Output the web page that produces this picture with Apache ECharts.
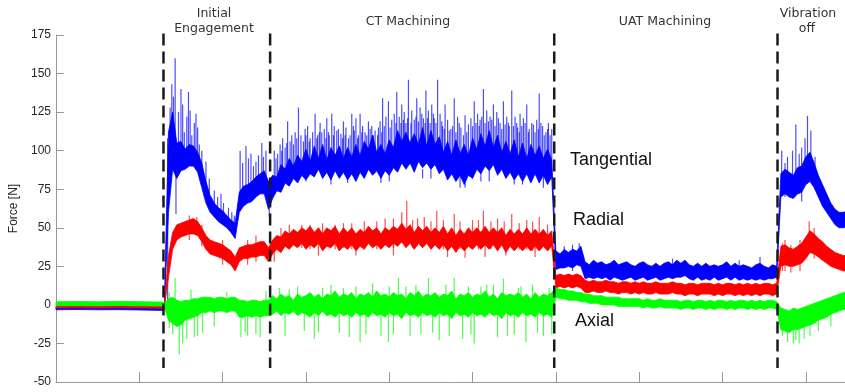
<!DOCTYPE html>
<html>
<head>
<meta charset="utf-8">
<script src="https://cdn.jsdelivr.net/npm/echarts@6/dist/echarts.min.js"></script>
<style>html,body{margin:0;padding:0;background:#fff;}#c{width:845px;height:392px;}</style>
</head>
<body>
<div id="c"></div>
<script>
// ---- sampling times (axis units, one tick = 1) ----
const time = [0, 0.25, 0.5, 0.75, 1.0, 1.28];
for (let i = 0; i <= 164; i++) time.push(Math.round((1.30 + i * 0.05) * 100) / 100);

// ---- phase boundaries and tick values ----
const boundaries = [1.29, 2.57, 5.98, 8.66];
const yTicks = [-50, -25, 0, 25, 50, 75, 100, 125, 150, 175];

// ---- Tangential (core band) ----
const tanUpper = [-1.5,-1.3,-1.5,-1.4,-1.5,-1.6,
 -1,112,125,105,106,101,104,103,99,92,80,71,66,63,61,58,55,53,73,77,78,80,83,85,87,80,
 84,83,91,88,95,90,97,93, 101,93,103,95,104,94,102,97,103,95, 102,96,104,97,106,101,110,99,104,98, 107,102,113,106,112,105,111,104,115,103, 113,104,109,99,106,97,107,98,104,97, 108,101,111,103,113,102,110,99,106,98, 107,96,105,95,104,97,103,95,101,94,
 35,33,36,34,36,35,38,28,26,29, 27,28,26,27,29,26,27,28,26,25, 27,28,26,25,27,25,27,28,26,29, 27,29,26,25,27,25,27,25,26,25, 26,28,25,27,25,26,25,24,26,27, 25,24,26,25,
 85,88,86,84,89,90,96,99,92,84,78,72,66,62,60,60,61];
const tanLower = [-3.2,-3.0,-3.2,-3.1,-3.3,-3.6,
 -3,60,88,82,87,88,90,90,86,76,66,60,57,54,52,50,47,43,60,64,66,67,70,72,72,62,
 69,74,73,79,77,82,79,84, 81,85,83,88,82,86,81,87,82,86, 81,85,80,86,82,88,84,87,82,87, 84,89,86,92,88,92,86,93,89,92, 88,91,85,88,81,85,80,84,78,84, 82,88,85,90,87,91,84,88,82,86, 81,85,80,85,79,85,79,84,78,83,
 23,24,24,25,24,26,25,17,18,17, 18,17,18,16,18,17,16,17,18,16, 17,18,16,17,18,16,17,18,17,18, 18,19,17,16,18,16,17,16,18,16, 17,18,16,18,16,17,16,17,16,17, 16,17,17,18,
 70,72,70,69,72,73,78,80,76,70,64,60,56,52,50,50,51];
// spikes: [time, low, high]
const tanSpikes = [
 [1.34,0,108],[1.39,95,143],[1.43,100,160],[1.44,59,95],[1.50,95,140],[1.54,95,112],[1.59,95,138],[1.63,95,110],[1.68,92,124],[1.72,90,104],
 [1.37,90,128],[1.41,88,135],[1.47,88,125],[1.52,92,130],[1.57,90,122],[1.61,92,126],[1.66,90,118],[1.70,88,115],[1.75,80,100],[1.84,66,82],
 [1.94,58,70],[2.11,48,60],[2.14,45,58],[2.24,64,92],[2.31,68,95],[2.37,70,90],[2.43,72,97],[2.49,75,96],
 [1.80,72,93],[1.90,60,74],[1.98,57,72],[2.01,55,66],[2.07,52,63],[2.21,65,100],[2.28,70,103],[2.34,72,98],[2.40,75,93],[2.47,78,105],[2.52,80,100],[2.56,57,78],
 [2.62,76,100],[2.72,82,108],[2.78,85,119],[2.83,86,110],[2.91,88,128],[2.99,90,114],[3.05,90,108],[3.11,92,124],[3.19,90,112],[3.25,90,121],[3.31,90,124],
 [3.39,90,114],[3.45,92,119],[3.51,90,108],[3.55,90,124],[3.60,90,121],[3.65,90,124],[3.75,92,119],[3.89,90,119],[3.92,92,134],[3.99,92,132],[4.09,95,138],
 [4.15,96,130],[4.23,96,146],[4.33,95,134],[4.44,96,139],[4.51,96,130],[4.58,95,146],[4.67,92,130],[4.78,90,134],[4.91,76,123],[5.02,90,132],[5.13,94,140],
 [5.25,94,130],[5.37,92,132],[5.47,90,139],[5.57,90,124],[5.65,88,130],[5.73,88,117],[5.80,88,137],[5.91,86,118],[5.95,86,114],
 [2.66,80,98],[2.69,82,104],[2.75,84,102],[2.81,85,106],[2.87,86,112],[2.94,88,110],[3.02,88,116],[3.08,88,112],[3.14,90,110],[3.17,90,118],[3.22,88,114],
 [3.28,88,110],[3.34,90,116],[3.42,90,111],[3.48,88,115],[3.58,88,113],[3.63,88,110],[3.68,88,116],[3.71,90,112],[3.79,90,116],[3.83,90,113],[3.86,90,110],
 [3.96,90,122],[4.03,92,120],[4.06,92,124],[4.12,94,122],[4.18,94,125],[4.20,95,118],[4.27,94,126],[4.30,92,120],[4.37,94,128],[4.41,95,121],[4.47,94,126],
 [4.54,93,121],[4.61,92,124],[4.64,91,116],[4.70,88,120],[4.74,88,114],[4.82,88,122],[4.86,86,115],[4.95,87,117],[4.98,88,121],[5.06,90,124],[5.09,92,120],
 [5.17,93,126],[5.21,93,122],[5.29,91,125],[5.33,90,118],[5.41,88,122],[5.44,88,116],[5.51,88,122],[5.54,87,115],[5.61,87,121],[5.68,86,114],[5.77,86,120],
 [5.84,86,116],[5.88,85,112],
 [2.64,78,95],[2.71,82,100],[2.77,84,105],[2.85,85,104],[2.89,86,108],[2.97,88,106],[3.00,88,110],[3.04,88,106],[3.13,90,108],[3.16,90,112],[3.24,88,108],
 [3.27,88,112],[3.33,90,110],[3.37,90,113],[3.44,90,108],[3.47,88,110],[3.53,88,110],[3.57,88,116],[3.62,88,108],[3.67,88,112],[3.73,90,110],[3.77,90,114],
 [3.81,90,110],[3.87,90,115],[3.91,90,112],[3.94,90,116],[4.01,92,115],[4.08,92,118],[4.14,94,118],[4.17,94,120],[4.22,95,121],[4.26,94,118],[4.32,92,122],
 [4.35,94,119],[4.39,95,124],[4.43,95,118],[4.46,94,121],[4.49,94,118],[4.53,93,124],[4.56,93,118],[4.63,92,119],[4.66,91,114],[4.72,88,113],[4.76,88,116],
 [4.80,88,112],[4.84,86,118],[4.89,86,110],[4.93,87,112],[5.00,88,116],[5.04,90,118],[5.08,92,116],[5.11,92,122],[5.15,93,118],[5.19,93,119],[5.23,92,120],
 [5.27,91,116],[5.31,90,121],[5.35,90,114],[5.39,88,117],[5.43,88,118],[5.49,88,116],[5.53,87,118],[5.56,87,112],[5.59,87,116],[5.63,86,118],[5.67,86,112],
 [5.71,86,118],[5.75,86,112],[5.79,86,114],[5.82,86,118],[5.86,85,110],[5.90,85,114],[5.93,85,110],
 [3.00,80,86],[3.30,78,90],[3.50,79,85],[3.90,79,86],[4.00,80,90],[4.40,82,88],[4.50,82,92],[4.85,76,84],[5.10,80,88],[5.20,80,92],[5.50,78,86],[5.60,78,88],[5.85,76,84],
 [6.10,28,38],[6.28,30,40],[6.20,22,39],[7.40,20,30],[8.20,20,29],[8.45,20,31],
 [8.71,75,100],[8.78,76,96],[8.84,75,100],[8.88,78,117],[8.95,67,102],[9.02,85,122.6],[9.06,85,113],[9.11,80,96],[8.75,70,92],[8.92,72,98],[8.99,78,108]];

// ---- Radial ----
const radUpper = [-0.6,-0.5,-0.6,-0.5,-0.6,-0.7,
 0,32,47,52,53,54,55,56,54,50,45,42,41,40,39,37,35,31,37,38,39,39,40,41,41,37,
 42,45,44,48,46,49,47,50, 48,51,47,50,46,50,48,51,46,50, 47,50,46,49,47,51,48,50,46,50, 48,51,49,53,49,52,47,51,48,51, 47,50,47,51,46,50,45,49,46,50, 47,50,47,51,47,50,47,50,45,49, 46,49,46,50,46,49,46,49,45,48,
 19,20,19,20,19,20,19, 16,15,16,15,15,16,15,15,14,15, 15,14,15,14,15,14,14,15,14,14, 14,15,14,14,13,14,14,13,14,14, 14,13,14,13,14,14,13,14,13,14, 13,14,13,14,14,13,14,
 38,39,37,36,38,40,44,48,46,43,41,38,36,34,33,32,32];
const radLower = [-2.0,-1.9,-2.0,-1.9,-2.0,-2.2,
 -2,18,36,42,44,45,46,46,45,41,36,33,32,31,30,28,26,22,28,30,30,31,31,32,32,28,
 33,36,34,38,36,39,37,40, 36,39,37,40,35,38,37,40,35,38, 36,39,35,38,36,40,37,39,36,39, 37,40,38,41,37,40,36,40,37,40, 36,39,36,39,35,38,34,38,35,38, 36,39,36,39,36,39,35,39,34,38, 35,38,35,38,35,38,35,38,35,38,
 11,12,11,12,11,12,11, 8,8,9,8,8,9,8,8,7,8, 8,7,8,7,8,7,7,8,7,7, 7,8,7,7,6,7,7,6,7,7, 7,6,7,6,7,7,6,7,6,7, 6,7,6,7,7,6,7,
 25,26,25,25,26,27,30,34,33,31,29,27,25,24,23,22,22];
const radSpikes = [
 [1.69,46,57],[2.00,26,42],[2.40,28,45],[2.62,28,36],[2.80,38,52],[2.95,37,52],[3.20,38,53],[3.45,37,53],[3.60,32,40],[3.70,38,54],[3.95,39,56],
 [4.15,40,60],[4.21,40,67.5],[4.34,38,56],[4.42,38,57],[4.57,38,61],[4.70,31,39],[4.78,38,59],[4.91,30.5,40],[5.00,37,55],[5.13,38,61],[5.30,37,56],
 [5.40,32,40],[5.47,38,59],[5.65,36,55],[5.80,37,57],[8.75,22,42],[9.04,40,54],
 [2.70,34,50],[3.05,36,52],[3.35,36,52],[3.55,36,53],[3.85,36,54],[4.05,37,56],[4.28,37,55],[4.50,36,54],[4.65,36,55],[4.85,36,54],[5.07,36,55],
 [5.22,36,54],[5.38,36,54],[5.56,36,53],[5.72,35,54],[5.90,35,52],[1.60,42,58],[1.75,38,52],[2.30,26,42],[3.15,32,40],[4.05,32,40],[5.15,31,40],
 [5.75,31,40],[8.72,22,40],[8.82,21,39],[8.93,22,42],[9.10,30,50]];

// ---- Axial ----
const axUpper = [2.0,2.2,2.0,2.3,2.1,1.8,
 1,4,5,3,2,3,3,4,4,5,5,5,4,5,5,4,5,5,3,3,2,3,3,2,3,3,
 6,4,7,5,6,3,7,5, 6,8,5,7,4,7,6,9,5,7, 6,8,4,7,6,8,5,9,6,7, 5,8,6,7,4,8,6,9,5,7, 6,8,5,7,6,9,4,7,6,8, 5,7,6,9,5,7,4,8,6,7, 6,8,5,7,4,8,5,7,6,8,
 11,10,10,9,9,8,8, 7,7,6,6,6,5,5,5,5,4, 4,4,4,4,3,4,3,3,4,3, 3,3,3,2,3,3,2,3,3,2, 3,2,3,3,2,3,2,3,3,2, 3,2,3,2,3,3,2,
 -2,-3,-4,-2,-3,-2,-1,0,1,2,3,4,5,6,7,8,8];
const axLower = [-0.6,-0.5,-0.6,-0.4,-0.6,-0.8,
 -1,-10,-12,-14,-13,-10,-9,-8,-7,-5,-5,-4,-5,-4,-4,-5,-4,-4,-8,-8,-7,-8,-7,-8,-7,-7,
 -6,-4,-7,-5,-6,-4,-7,-5, -6,-8,-5,-7,-4,-7,-6,-8,-5,-7, -6,-8,-5,-7,-6,-8,-5,-7,-6,-8, -5,-7,-6,-9,-5,-7,-6,-8,-5,-7, -6,-8,-5,-7,-6,-9,-5,-7,-6,-8, -5,-7,-6,-8,-5,-7,-6,-9,-5,-7, -6,-8,-5,-7,-6,-8,-5,-7,-6,-8,
 5,4,4,3,3,3,2, 2,1,1,1,0,0,0,0,-1,-1, -1,-1,-1,-1,-2,-1,-2,-2,-1,-2, -2,-2,-2,-3,-2,-2,-3,-2,-2,-3, -2,-3,-2,-2,-3,-2,-3,-2,-2,-3, -2,-3,-2,-3,-2,-2,-3,
 -16,-17,-18,-16,-16,-15,-14,-13,-12,-10,-9,-8,-6,-5,-4,-3,-3];
const axSpikes = [
 [1.36,-15,8],[1.40,-19,-5],[1.43,0,17.5],[1.48,-32,-10],[1.57,-22,-5],[1.62,0,10],[1.66,-21,-5],[1.76,-18,-3],[2.05,0,8],[2.22,-21,-5],[2.30,-20,-5],
 [2.45,-21,-5],[2.52,0,9],[2.68,0,11],[2.75,-20,-4],[2.90,0,12],[3.10,-22,-4],[3.20,0,11],[3.30,0,13],[3.40,-18,-4],[3.52,-21,-4],[3.65,-24,-4],
 [3.80,0,14],[3.99,-24,-4],[4.00,0,12],[4.11,0,17.5],[4.25,-20,-4],[4.38,-19,-4],[4.47,0,17.5],[4.60,-23,-4],[4.78,0,17.5],[4.88,-22,-4],[4.95,0,12],
 [5.02,-25,-4],[5.17,0,13],[5.30,-21,-4],[5.37,0,17],[5.50,-19,-4],[5.58,0,12],[5.64,-24,-4],[5.72,0,13],[5.85,-20,-4],[5.92,0,11],
 [2.80,0,10],[2.98,-17,0],[3.15,-18,0],[3.45,0,11],[3.60,0,12],[3.72,-19,0],[3.90,-20,0],[4.05,-19,0],[4.20,0,12],[4.32,0,13],[4.52,-18,0],
 [4.68,0,13],[4.72,-20,0],[4.98,-19,0],[5.10,0,12],[5.25,0,13],[5.42,-20,0],[5.55,0,11],[5.78,-18,0],[5.95,-19,0],[1.52,-25,-5],[1.70,-20,-5],
 [1.90,-14,0],[2.27,-18,-3],[2.40,-19,-3],
 [8.72,-20,-10],[8.78,-24,-10],[8.85,-25,-12],[8.88,-23,-10],[8.92,-25,-12],[8.98,-22,-10],[9.05,-20,-8],[9.15,-17,-5],[9.30,-14,0]];

const BLUE = '#0000ff', RED = '#ff0000', GREEN = '#00ff00';

function bandSeries(name, upper, lower, color) {
  return {
    type: 'custom', name: name, silent: true, clip: true, animation: false,
    data: [[time[0], upper[0]]],
    renderItem: function (params, api) {
      const pts = [];
      for (let i = 0; i < time.length; i++) pts.push(api.coord([time[i], upper[i]]));
      for (let i = time.length - 1; i >= 0; i--) pts.push(api.coord([time[i], lower[i]]));
      return { type: 'polygon', shape: { points: pts },
        style: { fill: color, stroke: color, lineWidth: 0.8 } };
    }
  };
}
function spikeSeries(name, spikes, color) {
  return {
    type: 'custom', name: name, silent: true, clip: true, animation: false,
    data: spikes, encode: { x: 0, y: [1, 2] },
    renderItem: function (params, api) {
      const a = api.coord([api.value(0), api.value(1)]);
      const b = api.coord([api.value(0), api.value(2)]);
      return { type: 'line', shape: { x1: a[0], y1: a[1], x2: b[0], y2: b[1] },
        style: { stroke: color, lineWidth: 1.2, opacity: 0.7 } };
    }
  };
}

const chart = echarts.init(document.getElementById('c'), null, { renderer: 'canvas' });
const hdr = (text, x, y) => ({ type: 'text', x: x, y: y, silent: true,
  style: { text: text, font: '12.5px "DejaVu Sans"', fill: '#333', textAlign: 'center', textVerticalAlign: 'middle' } });
const inl = (text, x, y) => ({ type: 'text', x: x, y: y, silent: true,
  style: { text: text, font: '18px "Liberation Sans", Arial', fill: '#111', textAlign: 'left', textVerticalAlign: 'middle' } });

chart.setOption({
  animation: false,
  backgroundColor: '#fff',
  grid: { left: 53, right: 0, top: 35, bottom: 10 },
  xAxis: {
    type: 'value', min: 0, max: 9.47, interval: 1,
    axisLine: { show: true, onZero: false, lineStyle: { color: '#999', width: 1 } },
    axisTick: { show: true, inside: true, length: 10, lineStyle: { color: '#999' } },
    axisLabel: { show: false }, splitLine: { show: false }
  },
  yAxis: {
    type: 'value', min: yTicks[0], max: yTicks[yTicks.length - 1], interval: 25,
    name: 'Force [N]', nameLocation: 'middle', nameGap: 36,
    nameTextStyle: { fontFamily: 'Liberation Sans, Arial', fontSize: 12, color: '#262626' },
    axisLine: { show: true, lineStyle: { color: '#999', width: 1 } },
    axisTick: { show: true, inside: true, length: 8, lineStyle: { color: '#999' } },
    axisLabel: { fontFamily: 'Liberation Sans, Arial', fontSize: 12, color: '#262626', margin: 5 },
    splitLine: { show: false }
  },
  series: [
    bandSeries('Tangential', tanUpper, tanLower, BLUE),
    spikeSeries('TangentialSpikes', tanSpikes, BLUE),
    bandSeries('Radial', radUpper, radLower, RED),
    spikeSeries('RadialSpikes', radSpikes, RED),
    bandSeries('Axial', axUpper, axLower, GREEN),
    spikeSeries('AxialSpikes', axSpikes, GREEN),
    {
      type: 'custom', name: 'phases', silent: true, clip: false, animation: false,
      data: boundaries.map(b => [b]), encode: { x: 0 },
      renderItem: function (params, api) {
        const a = api.coord([api.value(0), 176]);
        const b = api.coord([api.value(0), -41]);
        return { type: 'line', shape: { x1: a[0], y1: a[1], x2: b[0], y2: b[1] },
          style: { stroke: '#1a1a1a', lineWidth: 2.5, lineDash: [12, 6] } };
      }
    }
  ],
  graphic: [
    hdr('Initial', 214, 14), hdr('Engagement', 214, 29),
    hdr('CT Machining', 408, 22), hdr('UAT Machining', 665, 22),
    hdr('Vibration', 808, 14), hdr('off', 807, 29),
    inl('Tangential', 570, 160), inl('Radial', 573, 220), inl('Axial', 575, 321)
  ]
});
</script>
</body>
</html>
